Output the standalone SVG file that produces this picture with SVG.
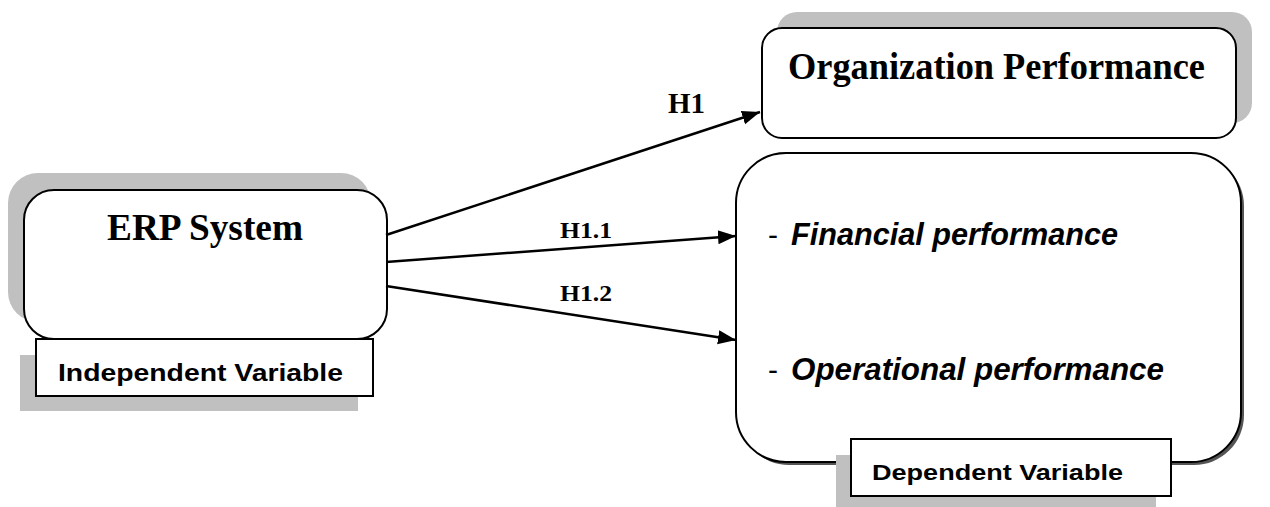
<svg xmlns="http://www.w3.org/2000/svg" width="1270" height="507" viewBox="0 0 1270 507">
<defs>
<style>
.shadow{fill:#c0c0c0;stroke:none}
.box{fill:#ffffff;stroke:#000000;stroke-width:2}
.conn{stroke:#000000;stroke-width:2.5;fill:none}
.serif{font-family:"Liberation Serif","Times New Roman",serif;font-weight:bold;fill:#000}
.sans{font-family:"Liberation Sans",Arial,sans-serif;font-weight:bold;fill:#000}
.ital{font-family:"Liberation Sans",Arial,sans-serif;font-weight:bold;font-style:italic;fill:#000}
</style>
<marker id="arrow" markerUnits="userSpaceOnUse" markerWidth="20" markerHeight="16" refX="18" refY="7" orient="auto" viewBox="0 0 20 14">
<path d="M0,0 L18,7 L0,14 Z" fill="#000"/>
</marker>
</defs>
<rect width="1270" height="507" fill="#ffffff"/>

<g id="erp-system">
<rect class="shadow" x="8" y="173" width="363" height="149" rx="30"/>
<rect class="box" x="24" y="190" width="363" height="149" rx="30"/>
<text class="serif" x="107" y="240" font-size="37" textLength="196" lengthAdjust="spacingAndGlyphs">ERP System</text>
</g>

<g id="independent-variable">
<rect class="shadow" x="20" y="355" width="338" height="56"/>
<rect class="box" x="36" y="339" width="337" height="57" stroke-width="1.5"/>
<text class="sans" x="58" y="381" font-size="24" textLength="285" lengthAdjust="spacingAndGlyphs">Independent Variable</text>
</g>

<g id="organization-performance">
<rect class="shadow" x="777" y="12" width="475" height="111" rx="20"/>
<rect class="box" x="762" y="28" width="474" height="110" rx="20"/>
<text class="serif" x="788" y="79" font-size="37" textLength="417" lengthAdjust="spacingAndGlyphs">Organization Performance</text>
</g>

<g id="dependent-box">
<rect x="739" y="156" width="505" height="309" rx="50" fill="#555555"/>
<rect class="box" x="736" y="153" width="505" height="309" rx="50"/>
<text class="ital" x="768" y="245" font-size="30"><tspan font-style="normal" font-weight="normal">-</tspan></text>
<text class="ital" x="791" y="245" font-size="31" textLength="327" lengthAdjust="spacingAndGlyphs">Financial performance</text>
<text class="ital" x="768" y="380" font-size="30"><tspan font-style="normal" font-weight="normal">-</tspan></text>
<text class="ital" x="791" y="380" font-size="31" textLength="373" lengthAdjust="spacingAndGlyphs">Operational performance</text>
</g>

<g id="dependent-variable">
<rect class="shadow" x="836" y="455" width="320" height="56"/>
<rect class="box" x="851" y="439" width="320" height="57" stroke-width="1.5"/>
<text class="sans" x="872" y="480" font-size="22" textLength="251" lengthAdjust="spacingAndGlyphs">Dependent Variable</text>
</g>

<g id="connectors">
<line class="conn" x1="386" y1="235" x2="760" y2="112" marker-end="url(#arrow)"/>
<line class="conn" x1="386" y1="262" x2="736" y2="236" marker-end="url(#arrow)"/>
<line class="conn" x1="386" y1="286" x2="736" y2="340" marker-end="url(#arrow)"/>
<text class="serif" x="668" y="113" font-size="30" textLength="37" lengthAdjust="spacingAndGlyphs">H1</text>
<text class="serif" x="560" y="238" font-size="23" textLength="52" lengthAdjust="spacingAndGlyphs">H1.1</text>
<text class="serif" x="560" y="301" font-size="23" textLength="52" lengthAdjust="spacingAndGlyphs">H1.2</text>
</g>
</svg>
